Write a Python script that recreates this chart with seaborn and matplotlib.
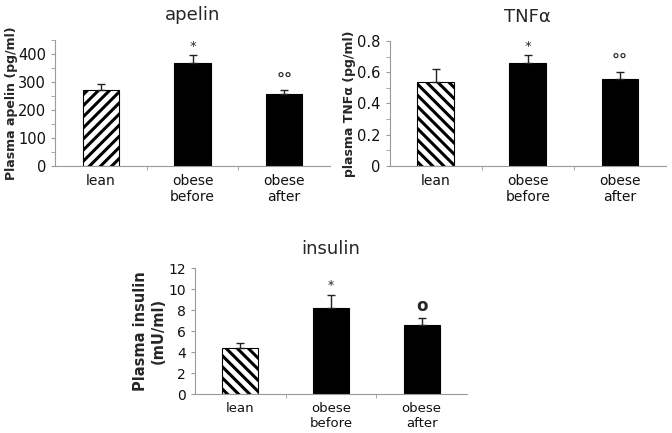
import numpy as np
import pandas as pd
import seaborn as sns
import matplotlib.pyplot as plt
from matplotlib.ticker import MultipleLocator, FixedLocator, FuncFormatter

groups = ["lean", "obese\nbefore", "obese\nafter"]

apelin = [272, 368, 256]
apelin_err = [21, 27, 15]
apelin_marks = ["", "*", "°°"]

tnf = [0.54, 0.66, 0.56]
tnf_err = [0.08, 0.05, 0.045]
tnf_marks = ["", "*", "°°"]

insulin = [4.35, 8.15, 6.6]
insulin_err = [0.5, 1.25, 0.6]
insulin_marks = ["", "*", "o"]

sns.set_style("white")
plt.rcParams["font.family"] = ["DejaVu Sans"]
plt.rcParams["hatch.linewidth"] = 2.2
grey = "#9a9a9a"

fig = plt.figure(figsize=(6.72, 4.33), dpi=100)


def panel(rect, vals, errs, marks, title, ylabel, ylim, step, hatch, fs, minor=None,
          mark_off=0.0, title_pad=14, fmt=None, labelpad=4, yl_fs=9):
    ax = fig.add_axes(rect)
    df = pd.DataFrame({"group": groups, "value": vals})
    sns.barplot(data=df, x="group", y="value", ax=ax, width=0.4,
                palette=["white", "black", "black"], hue="group", legend=False,
                edgecolor="black", linewidth=0.8)
    ax.patches[0].set_hatch(hatch)
    ax.errorbar(range(3), vals, yerr=[np.zeros(3), errs], fmt="none",
                ecolor="#222222", elinewidth=1, capsize=3, capthick=1)
    for i, m in enumerate(marks):
        if not m:
            continue
        top = vals[i] + errs[i]
        if m == "*":
            ax.text(i, top + mark_off, m, ha="center", va="bottom", fontsize=fs - 1)
        elif m == "o":
            ax.text(i, top + mark_off, m, ha="center", va="bottom", fontsize=fs + 2, fontweight="bold")
        else:
            ax.text(i, top + mark_off, m, ha="center", va="bottom", fontsize=fs + 1, fontweight="bold")
    ax.set_xlim(-0.5, 2.5)
    ax.set_ylim(*ylim)
    ax.yaxis.set_major_locator(MultipleLocator(step))
    if minor:
        ax.yaxis.set_minor_locator(MultipleLocator(minor))
    if fmt:
        ax.yaxis.set_major_formatter(FuncFormatter(fmt))
    ax.xaxis.set_minor_locator(FixedLocator([0.5, 1.5]))
    ax.tick_params(axis="x", which="major", length=0, labelsize=fs - 0.5, pad=6, colors="#111111")
    ax.tick_params(axis="x", which="minor", length=3, direction="out", color=grey, bottom=True)
    ax.tick_params(axis="y", which="both", length=3, direction="out", left=True,
                   labelsize=fs, colors="#111111")
    ax.tick_params(axis="both", which="both", color=grey)
    for s in ["top", "right"]:
        ax.spines[s].set_visible(False)
    for s in ["left", "bottom"]:
        ax.spines[s].set_color(grey)
        ax.spines[s].set_linewidth(0.8)
    ax.set_xlabel("")
    ax.set_ylabel(ylabel, fontsize=yl_fs, fontweight="bold", labelpad=labelpad)
    ax.set_title(title, fontsize=13, pad=title_pad)
    return ax


panel([0.082, 0.617, 0.409, 0.291], apelin, apelin_err, apelin_marks,
      "apelin", "Plasma apelin (pg/ml)", (0, 450), 100, "///", 10.5, minor=50,
      mark_off=8, yl_fs=9, labelpad=0)
panel([0.580, 0.617, 0.411, 0.288], tnf, tnf_err, tnf_marks,
      "TNFα", "plasma TNFα (pg/ml)", (0, 0.8), 0.2, "\\\\\\", 10.5, minor=0.1,
      mark_off=0.015, fmt=lambda v, p: "0" if abs(v) < 1e-9 else f"{v:.1f}",
      yl_fs=9, labelpad=1)
panel([0.290, 0.090, 0.405, 0.291], insulin, insulin_err, insulin_marks,
      "insulin", "Plasma insulin\n(mU/ml)", (0, 12), 2, "\\\\\\", 10, mark_off=0.3,
      title_pad=10, labelpad=2, yl_fs=10.5)

fig.savefig("out.png", dpi=100)
